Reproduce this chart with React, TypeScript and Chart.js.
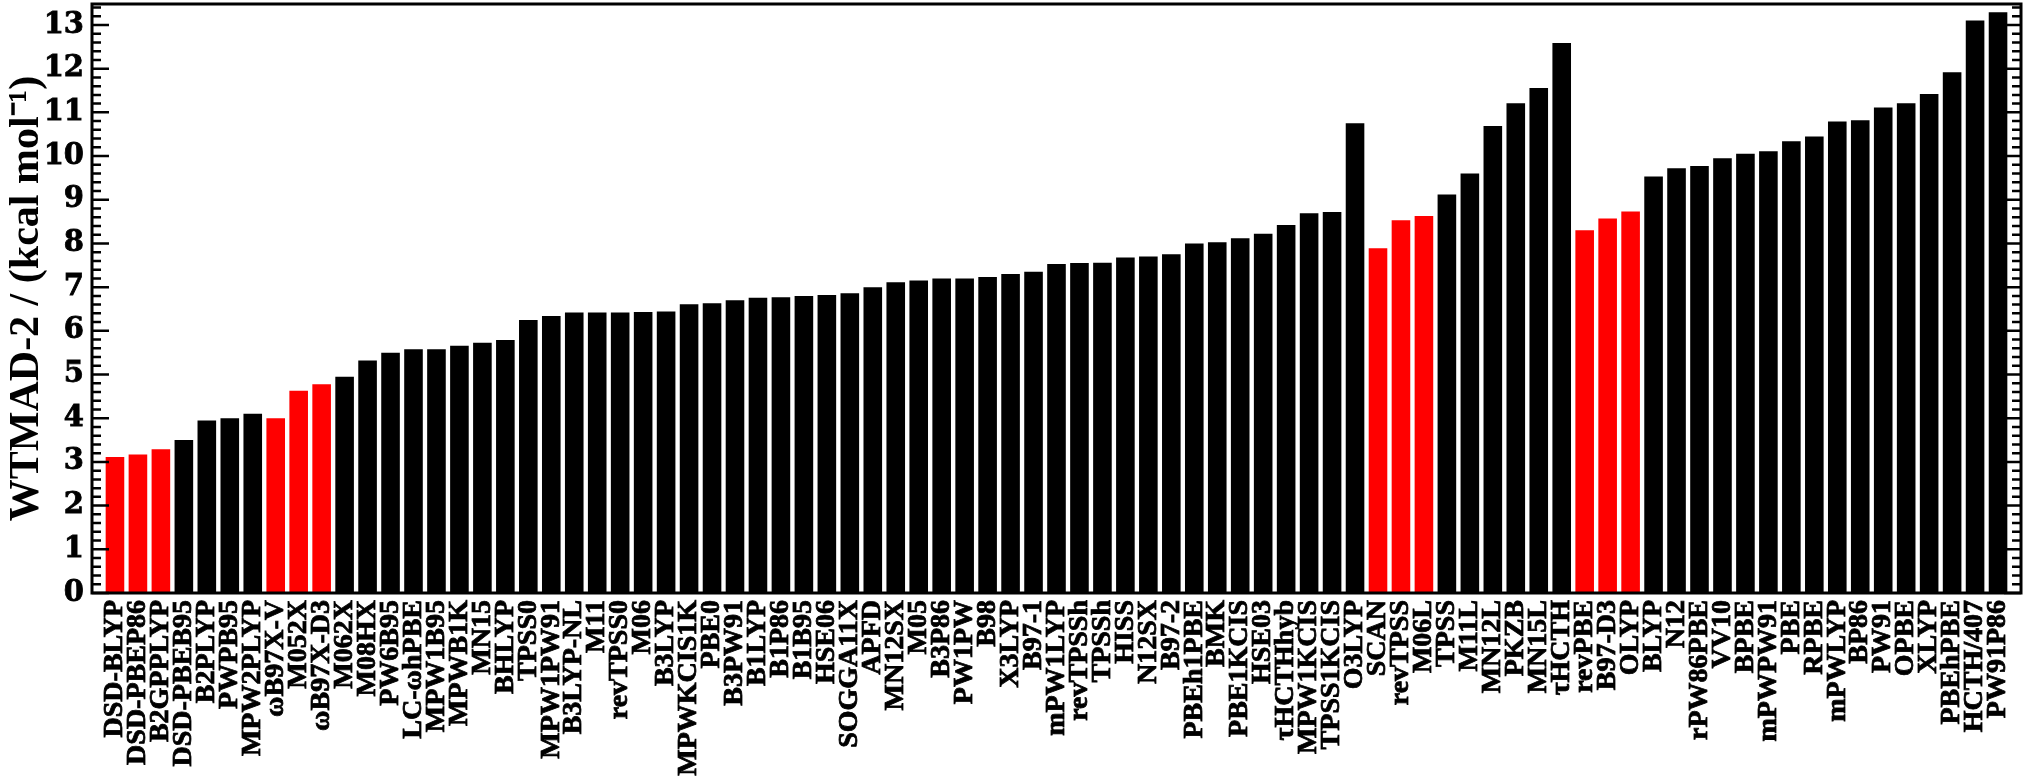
import React, { useEffect, useRef } from "react";
import { Chart, registerables } from "chart.js";

Chart.register(...registerables);

const functionals: string[] = [
  "DSD-BLYP", "DSD-PBEP86", "B2GPPLYP", "DSD-PBEB95", "B2PLYP", "PWPB95", "MPW2PLYP",
  "ωB97X-V", "M052X", "ωB97X-D3", "M062X", "M08HX", "PW6B95", "LC-ωhPBE", "MPW1B95",
  "MPWB1K", "MN15", "BHLYP", "TPSS0", "MPW1PW91", "B3LYP-NL", "M11", "revTPSS0", "M06",
  "B3LYP", "MPWKCIS1K", "PBE0", "B3PW91", "B1LYP", "B1P86", "B1B95", "HSE06", "SOGGA11X",
  "APFD", "MN12SX", "M05", "B3P86", "PW1PW", "B98", "X3LYP", "B97-1", "mPW1LYP",
  "revTPSSh", "TPSSh", "HISS", "N12SX", "B97-2", "PBEh1PBE", "BMK", "PBE1KCIS", "HSE03",
  "τHCTHhyb", "MPW1KCIS", "TPSS1KCIS", "O3LYP", "SCAN", "revTPSS", "M06L", "TPSS", "M11L",
  "MN12L", "PKZB", "MN15L", "τHCTH", "revPBE", "B97-D3", "OLYP", "BLYP", "N12", "rPW86PBE",
  "VV10", "BPBE", "mPWPW91", "PBE", "RPBE", "mPWLYP", "BP86", "PW91", "OPBE", "XLYP",
  "PBEhPBE", "HCTH/407", "PW91P86",
];

const wtmad2: number[] = [
  3.11, 3.17, 3.29, 3.50, 3.95, 4.00, 4.10, 4.00, 4.63, 4.78, 4.95, 5.32, 5.50, 5.58, 5.58,
  5.66, 5.73, 5.79, 6.25, 6.34, 6.42, 6.42, 6.42, 6.43, 6.44, 6.61, 6.63, 6.70, 6.76, 6.77,
  6.80, 6.82, 6.86, 7.00, 7.11, 7.15, 7.20, 7.20, 7.23, 7.30, 7.35, 7.53, 7.55, 7.56, 7.68,
  7.70, 7.75, 8.00, 8.03, 8.12, 8.22, 8.42, 8.69, 8.72, 10.75, 7.89, 8.53, 8.63, 9.12, 9.60,
  10.69, 11.21, 11.56, 12.59, 8.30, 8.57, 8.73, 9.53, 9.72, 9.77, 9.95, 10.05, 10.11, 10.34,
  10.45, 10.79, 10.82, 11.11, 11.21, 11.42, 11.92, 13.10, 13.29,
];

const highlighted: string[] = [
  "DSD-BLYP", "DSD-PBEP86", "B2GPPLYP", "ωB97X-V", "M052X", "ωB97X-D3",
  "SCAN", "revTPSS", "M06L", "revPBE", "B97-D3", "OLYP",
];

const yTicks: number[] = [0, 1, 2, 3, 4, 5, 6, 7, 8, 9, 10, 11, 12, 13];
const yMax = 13.48;
const yTitle = "WTMAD-2 / (kcal mol⁻¹)";

const SERIF = "'Liberation Serif', 'Times New Roman', serif";
const WIDE_SERIF = "'DejaVu Serif', serif";

const framePlugin = {
  id: "frameAndInsideTicks",
  afterDatasetsDraw(chart: any) {
    const { ctx, chartArea } = chart;
    const y = chart.scales.y;
    ctx.save();
    ctx.strokeStyle = "#000";
    ctx.lineWidth = 2.5;
    ctx.beginPath();
    for (let k = 0; k <= Math.floor(yMax * 5 + 1e-6); k++) {
      const v = k / 5;
      const py = y.getPixelForValue(v);
      const major = k % 5 === 0;
      const len = major ? 17 : 9;
      ctx.moveTo(chartArea.left, py);
      ctx.lineTo(chartArea.left + len, py);
      ctx.moveTo(chartArea.right, py);
      ctx.lineTo(chartArea.right - len, py);
    }
    ctx.stroke();
    ctx.lineWidth = 3;
    ctx.strokeRect(
      chartArea.left,
      chartArea.top,
      chartArea.right - chartArea.left,
      chartArea.bottom - chartArea.top
    );
    ctx.restore();
  },
};

export default function App() {
  const canvasRef = useRef<HTMLCanvasElement | null>(null);

  useEffect(() => {
    if (!canvasRef.current) return;
    const labels = ["", ...functionals, ""];
    const data = [null, ...wtmad2, null];
    const colors = labels.map((l) => (highlighted.includes(l) ? "#ff0000" : "#000000"));

    const chart = new Chart(canvasRef.current, {
      type: "bar",
      data: {
        labels,
        datasets: [
          {
            data: data as any,
            backgroundColor: colors,
            borderWidth: 0,
            barPercentage: 0.81,
            categoryPercentage: 1,
          },
        ],
      },
      options: {
        animation: false,
        responsive: true,
        maintainAspectRatio: false,
        layout: { padding: { top: 4, right: 4, left: 0, bottom: 0 } },
        plugins: { legend: { display: false }, tooltip: { enabled: false } },
        scales: {
          x: {
            type: "category",
            offset: false,
            grid: { display: false, drawTicks: false },
            border: { display: false },
            ticks: {
              autoSkip: false,
              minRotation: 90,
              maxRotation: 90,
              padding: 7,
              color: "#000",
              textStrokeColor: "#000",
              textStrokeWidth: 0.8,
              font: { family: SERIF, size: 28, weight: "bold" },
            },
            afterFit(scale: any) {
              scale.height = 189;
              scale.paddingLeft = 0;
              scale.paddingRight = 0;
            },
          },
          y: {
            min: 0,
            max: yMax,
            grid: { display: false, drawTicks: false },
            border: { display: false },
            afterBuildTicks(scale: any) {
              scale.ticks = yTicks.map((v) => ({ value: v }));
            },
            ticks: {
              autoSkip: false,
              padding: 8,
              color: "#000",
              textStrokeColor: "#000",
              textStrokeWidth: 0.8,
              font: { family: WIDE_SERIF, size: 29, weight: "bold" },
            },
            title: {
              display: true,
              text: yTitle,
              color: "#000",
              padding: { top: 4, bottom: 0 },
              font: { family: SERIF, size: 42, weight: "bold", lineHeight: 1.1 },
            },
            afterFit(scale: any) {
              scale.width = 92;
              scale.paddingTop = 0;
              scale.paddingBottom = 0;
            },
          },
        },
      },
      plugins: [framePlugin],
    });
    return () => chart.destroy();
  }, []);

  return (
    <div style={{ position: "fixed", left: 0, top: 0, width: 2025, height: 782, background: "#fff" }}>
      <canvas ref={canvasRef} />
    </div>
  );
}
